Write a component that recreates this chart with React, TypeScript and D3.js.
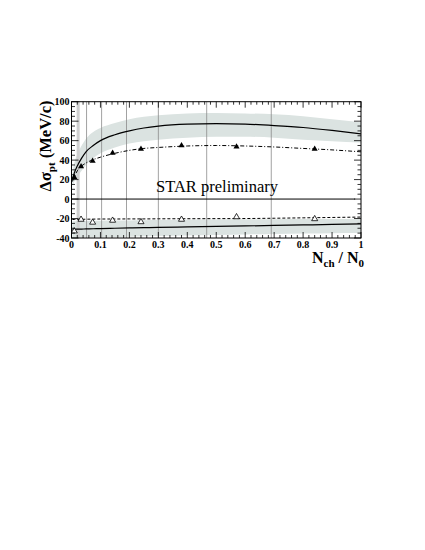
import React from "react";
import * as d3 from "d3";

// upper fit (solid) with its systematic band
const fitX = [0.003, 0.01, 0.02, 0.035, 0.05, 0.075, 0.1, 0.15, 0.2, 0.25, 0.3, 0.4, 0.5, 0.6, 0.7, 0.8, 0.9, 1.0];
const upperFit = [20, 27, 34, 42, 48.5, 55, 60, 66, 70, 73, 75, 77, 77.5, 77, 75.5, 73.5, 70.5, 67];
const upperLo = [14, 18, 23, 29, 35, 42, 47, 53, 57, 59.5, 61, 63, 64, 64, 63, 61, 59.5, 58];
const upperHi = [26, 37, 46, 55, 62, 69, 73, 78, 82, 84.5, 86, 88, 88.5, 88, 87, 85, 82, 79];

// lower fit (solid) with its band
const lowerFit = [-31, -31, -30.9, -30.8, -30.7, -30.5, -30.3, -30, -29.7, -29.4, -29.1, -28.6, -28.1, -27.6, -27.1, -26.6, -26.1, -25.5];
const lowerLo = [-40, -40, -40, -39.8, -39.6, -39.4, -39.2, -38.9, -38.6, -38.3, -38, -37.4, -36.8, -36.3, -35.8, -35.3, -35, -34.8];
const lowerHi = [-22.8, -22.8, -22.7, -22.6, -22.5, -22.4, -22.3, -22.1, -21.9, -21.7, -21.5, -21.2, -21, -20.8, -20.7, -20.6, -20.5, -20.4];

// dash-dot fit through filled triangles
const dashDotFit = [18, 23, 29, 34, 37, 40.5, 43, 47, 50, 52, 53, 54.5, 55, 54.5, 53.5, 52, 50.5, 48.5];
// dashed fit through open triangles
const dashedFit = [-21, -21, -21, -20.8, -20.7, -20.6, -20.5, -20.5, -20.4, -20.4, -20.3, -20.2, -20.1, -20, -19.7, -19.3, -18.9, -18.5];

const pointX = [0.0097, 0.033, 0.073, 0.142, 0.24, 0.38, 0.57, 0.84];
const filledY = [22.3, 33.5, 39, 47.3, 51.4, 55, 53.7, 51.4];
const openY = [-33, -21, -24, -22, -23.5, -21, -18.4, -20.4];

const binEdges = [0.052, 0.104, 0.19, 0.3, 0.467, 0.69];
const thickEdge = 0.023;

const xTicks = [0, 0.1, 0.2, 0.3, 0.4, 0.5, 0.6, 0.7, 0.8, 0.9, 1];
const yTicks = [-40, -20, 0, 20, 40, 60, 80, 100];

const W = 425;
const H = 550;
const left = 71.5;
const right = 361;
const top = 101.7;
const bottom = 238;

const font = "'Liberation Serif', 'DejaVu Serif', serif";

export default function App() {
  const x = d3.scaleLinear().domain([0, 1]).range([left, right]);
  const y = d3.scaleLinear().domain([-40, 100]).range([bottom, top]);

  const line = (ys: number[]) =>
    d3
      .line<number>()
      .x((_, i) => x(fitX[i]))
      .y((d) => y(d))
      .curve(d3.curveMonotoneX)(ys) || "";

  const band = (lo: number[], hi: number[]) =>
    d3
      .area<number>()
      .x((_, i) => x(fitX[i]))
      .y0((_, i) => y(lo[i]))
      .y1((_, i) => y(hi[i]))
      .curve(d3.curveMonotoneX)(fitX) || "";

  const tri = d3.symbol().type(d3.symbolTriangle).size(16)() || "";

  const xMinor = d3.range(0, 1.0001, 0.02);
  const yMinor = d3.range(-40, 100.001, 5);

  return (
    <svg
      width={W}
      height={H}
      style={{ position: "absolute", left: 0, top: 0, background: "#fff" }}
    >
      <defs>
        <clipPath id="plot">
          <rect x={left} y={top} width={right - left} height={bottom - top} />
        </clipPath>
      </defs>

      <g clipPath="url(#plot)">
        <path d={band(upperLo, upperHi)} fill="#dbe3e1" />
        <path d={band(lowerLo, lowerHi)} fill="#dbe3e1" />

        <line x1={x(thickEdge)} x2={x(thickEdge)} y1={top} y2={bottom} stroke="#cfcfcf" strokeWidth={3} />
        {binEdges.map((e) => (
          <line key={e} x1={x(e)} x2={x(e)} y1={top} y2={bottom} stroke="#8a8a8a" strokeWidth={0.8} />
        ))}

        <line x1={x(0)} x2={x(0.98)} y1={y(0)} y2={y(0)} stroke="#000" strokeWidth={1} />

        <path d={line(upperFit)} fill="none" stroke="#000" strokeWidth={1.2} />
        <path d={line(lowerFit)} fill="none" stroke="#000" strokeWidth={1.2} />
        <path d={line(dashDotFit)} fill="none" stroke="#000" strokeWidth={1} strokeDasharray="4,2,1,2" />
        <path d={line(dashedFit)} fill="none" stroke="#000" strokeWidth={1} strokeDasharray="3,2" />

        {pointX.map((px, i) => (
          <path key={"f" + i} d={tri} transform={`translate(${x(px)},${y(filledY[i])})`} fill="#000" />
        ))}
        {pointX.map((px, i) => (
          <path
            key={"o" + i}
            d={tri}
            transform={`translate(${x(px)},${y(openY[i])})`}
            fill="#fff"
            stroke="#000"
            strokeWidth={0.8}
          />
        ))}
      </g>

      {/* frame */}
      <rect x={left} y={top} width={right - left} height={bottom - top} fill="none" stroke="#000" strokeWidth={1} />

      {/* x ticks, inside, bottom and top */}
      {xMinor.map((t, i) => {
        const major = i % 5 === 0;
        const len = major ? 6 : 3;
        return (
          <g key={"xt" + i} stroke="#000" strokeWidth={0.8}>
            <line x1={x(t)} x2={x(t)} y1={bottom} y2={bottom - len} />
            <line x1={x(t)} x2={x(t)} y1={top} y2={top + len} />
          </g>
        );
      })}
      {yMinor.map((t, i) => {
        const major = i % 4 === 0;
        const len = major ? 7 : 3.5;
        return (
          <g key={"yt" + i} stroke="#000" strokeWidth={0.8}>
            <line x1={left} x2={left + len} y1={y(t)} y2={y(t)} />
            <line x1={right} x2={right - len} y1={y(t)} y2={y(t)} />
          </g>
        );
      })}

      {xTicks.map((t) => (
        <text
          key={"xl" + t}
          x={x(t)}
          y={248}
          textAnchor="middle"
          fontFamily={font}
          fontWeight="bold"
          fontSize={10}
        >
          {d3.format("~g")(t)}
        </text>
      ))}
      {yTicks.map((t) => (
        <text
          key={"yl" + t}
          x={left - 2}
          y={y(t) + 3.5}
          textAnchor="end"
          fontFamily={font}
          fontWeight="bold"
          fontSize={10}
        >
          {t}
        </text>
      ))}

      <text x={156} y={192} fontFamily={font} fontSize={16.5}>
        STAR preliminary
      </text>

      <text
        transform={`translate(51,146) rotate(-90)`}
        textAnchor="middle"
        fontFamily={font}
        fontWeight="bold"
        fontSize={16.5}
      >
        Δσ
        <tspan fontSize={11} dy={4}>pt</tspan>
        <tspan dy={-4}> (MeV/c)</tspan>
      </text>

      <text x={364} y={263} textAnchor="end" fontFamily={font} fontWeight="bold" fontSize={16}>
        N<tspan fontSize={11} dy={4}>ch</tspan>
        <tspan dy={-4}> / N</tspan>
        <tspan fontSize={11} dy={4}>0</tspan>
      </text>
    </svg>
  );
}
